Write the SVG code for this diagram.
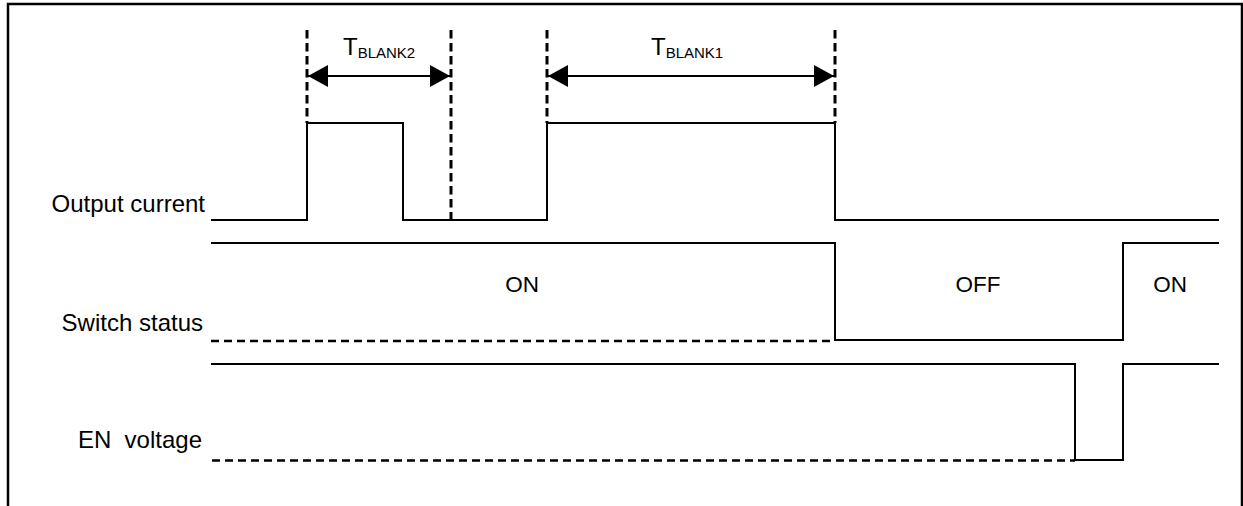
<svg xmlns="http://www.w3.org/2000/svg" width="1243" height="506" viewBox="0 0 1243 506">
<style>
.wave{fill:none;stroke:#000;stroke-width:2}
.dash{fill:none;stroke:#000;stroke-width:3;stroke-dasharray:8.5 4.5}
.hdash{fill:none;stroke:#000;stroke-width:2.6;stroke-dasharray:8 5}
.dim{fill:none;stroke:#000;stroke-width:2}
.lbl{font-family:"Liberation Sans",Arial,sans-serif;font-size:24px;fill:#000}
.st{font-family:"Liberation Sans",Arial,sans-serif;font-size:22.5px;fill:#000;text-anchor:middle}
.sub{font-size:15px}
</style>
<defs>
<marker id="ah" markerWidth="20" markerHeight="22" refX="20" refY="11" orient="auto-start-reverse" markerUnits="userSpaceOnUse">
<path d="M0,0 L20,11 L0,22 Z" fill="#000"/>
</marker>
</defs>
<rect width="1243" height="506" fill="#fff"/>
<path d="M8,506 V4 H1242 V506" fill="none" stroke="#000" stroke-width="2.5"/>
<g id="labels">
<text class="lbl" x="205" y="212" text-anchor="end">Output current</text>
<text class="lbl" x="203" y="331" text-anchor="end">Switch status</text>
<text class="lbl" x="202" y="448" text-anchor="end" xml:space="preserve">EN  voltage</text>
</g>
<g id="output-current">
<path class="wave" d="M211,220 H307 V123 H403 V220 H547 V123 H835 V220 H1219"/>
</g>
<g id="switch-status">
<path class="wave" d="M211,243 H835 V340 H1123 V243 H1219"/>
<path class="hdash" d="M211,341 H835"/>
<text class="st" x="522" y="292">ON</text>
<text class="st" x="978" y="292">OFF</text>
<text class="st" x="1170" y="292">ON</text>
</g>
<g id="en-voltage">
<path class="wave" d="M211,364 H1075 V460 H1123 V364 H1219"/>
<path class="hdash" d="M212,460.5 H1075"/>
</g>
<g id="connectors">
<path class="dash" d="M307,30 V123"/>
<path class="dash" d="M451,30 V220"/>
<path class="dash" d="M547,30 V123"/>
<path class="dash" d="M835,30 V123"/>
<path class="dim" d="M308,76 H450" marker-start="url(#ah)" marker-end="url(#ah)"/>
<path class="dim" d="M548,76 H834" marker-start="url(#ah)" marker-end="url(#ah)"/>
</g>
<g id="tblank2">
<text class="lbl" x="343" y="55">T<tspan class="sub" dy="3">BLANK2</tspan></text>
</g>
<g id="tblank1">
<text class="lbl" x="651" y="55">T<tspan class="sub" dy="3">BLANK1</tspan></text>
</g>
</svg>
